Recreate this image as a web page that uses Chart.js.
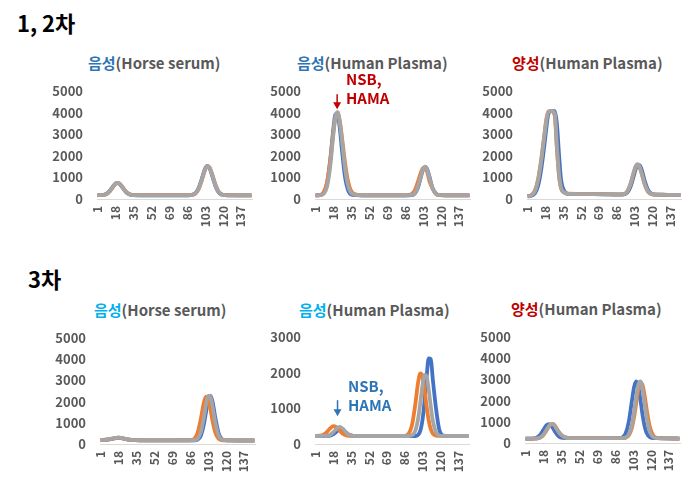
<!DOCTYPE html>
<html>
<head>
<meta charset="utf-8">
<script src="https://cdn.jsdelivr.net/npm/chart.js@4"></script>
<style>
body { margin: 0; background: #fff; font-family: "Noto Sans CJK KR", "Noto Sans", sans-serif; }
#wrap { position: relative; width: 692px; height: 496px; overflow: hidden; }
.box { position: absolute; }
.head { position: absolute; font-weight: bold; font-size: 22px; line-height: 26px; color: #000; }
.ttl { position: absolute; font-weight: bold; font-size: 15px; line-height: 20px; color: #595959; white-space: nowrap; }
.note { position: absolute; font-weight: bold; font-size: 15px; line-height: 19px; }
</style>
</head>
<body>
<div id="wrap">
  <div class="head" style="left:17px; top:9px;">1, 2차</div>
  <div class="head" style="left:28px; top:265px;">3차</div>

  <div class="ttl" style="left:88px; top:53px;"><span style="color:#2E75B6">음성</span>(Horse serum)</div>
  <div class="ttl" style="left:297px; top:53px;"><span style="color:#2E75B6">음성</span>(Human Plasma)</div>
  <div class="ttl" style="left:512px; top:53px;"><span style="color:#C00000">양성</span>(Human Plasma)</div>
  <div class="ttl" style="left:94px; top:300px;"><span style="color:#00B0F0">음성</span>(Horse serum)</div>
  <div class="ttl" style="left:299px; top:300px;"><span style="color:#00B0F0">음성</span>(Human Plasma)</div>
  <div class="ttl" style="left:511px; top:299px;"><span style="color:#C00000">양성</span>(Human Plasma)</div>

  <div class="box" style="left:37px; top:81px; width:219px; height:158px;"><canvas id="c1"></canvas></div>
  <div class="box" style="left:255px; top:81px; width:219px; height:158px;"><canvas id="c2"></canvas></div>
  <div class="box" style="left:467px; top:81px; width:218px; height:158px;"><canvas id="c3"></canvas></div>
  <div class="box" style="left:40px; top:328px; width:219px; height:156px;"><canvas id="c4"></canvas></div>
  <div class="box" style="left:255px; top:327px; width:218px; height:157px;"><canvas id="c5"></canvas></div>
  <div class="box" style="left:465px; top:327px; width:219px; height:156px;"><canvas id="c6"></canvas></div>

  <div class="note" style="left:346px; top:69px; color:#C00000;">NSB,<br>HAMA</div>
  <div class="note" style="left:348px; top:376px; color:#2E75B6;">NSB,<br>HAMA</div>
</div>
<script>
const xTicks = [1, 18, 35, 52, 69, 86, 103, 120, 137];
const colBlue = '#4472C4', colOrange = '#ED7D31', colGray = '#A5A5A5';

// 1, 2차 - 음성(Horse serum)
const p1X      = [1, 5, 9, 12, 15, 18, 20, 22, 25, 28, 31, 35, 45, 60, 75, 86, 90, 94, 97, 100, 103, 105, 107, 110, 113, 116, 120, 125, 135, 147];
const p1Blue   = [185, 178, 230, 345, 540, 715, 745, 690, 505, 320, 215, 175, 165, 165, 165, 170, 185, 280, 520, 950, 1400, 1530, 1450, 1040, 580, 300, 185, 170, 165, 165];
const p1Orange = [180, 175, 215, 320, 505, 690, 740, 710, 535, 345, 230, 180, 175, 175, 175, 175, 180, 260, 475, 890, 1350, 1510, 1480, 1100, 640, 335, 195, 175, 170, 170];
const p1Gray   = [190, 176, 222, 331, 522, 705, 750, 705, 522, 331, 222, 176, 170, 170, 170, 172, 181, 267, 491, 913, 1370, 1523, 1470, 1077, 612, 320, 190, 172, 170, 170];

// 1, 2차 - 음성(Human Plasma)
const p2X      = [1, 5, 9, 12, 15, 18, 20, 22, 24, 26, 29, 32, 36, 45, 60, 75, 86, 92, 95, 98, 101, 103, 105, 107, 109, 112, 115, 119, 125, 135, 147];
const p2Blue   = [170, 180, 297, 736, 1814, 3282, 3930, 3930, 3282, 2303, 1017, 390, 189, 170, 168, 168, 170, 181, 248, 500, 1036, 1370, 1490, 1370, 1036, 500, 248, 176, 170, 168, 168];
const p2Orange = [170, 178, 337, 797, 1803, 3145, 3803, 3955, 3598, 2888, 1670, 785, 288, 172, 170, 170, 172, 228, 387, 777, 1231, 1432, 1432, 1231, 840, 492, 266, 180, 172, 170, 170];
const p2Gray   = [170, 175, 251, 588, 1536, 3030, 3830, 4020, 3585, 2750, 1427, 597, 228, 170, 170, 170, 172, 186, 268, 552, 1070, 1388, 1500, 1337, 996, 498, 250, 176, 170, 170, 170];

// 1, 2차 - 양성(Human Plasma)
const p3X      = [1, 4, 8, 11, 14, 17, 19, 21, 24, 27, 29, 31, 33, 36, 40, 48, 55, 62, 70, 80, 88, 92, 96, 99, 102, 104, 106, 108, 110, 113, 116, 120, 125, 135, 147];
const p3Blue   = [120, 140, 260, 600, 1350, 2450, 3300, 3950, 4080, 4070, 3500, 2100, 900, 380, 240, 225, 225, 222, 218, 210, 205, 208, 290, 530, 999, 1349, 1568, 1568, 1349, 820, 424, 230, 200, 190, 185];
const p3Orange = [140, 170, 380, 900, 1800, 2950, 3700, 4050, 4070, 3850, 2350, 1100, 500, 300, 245, 238, 240, 238, 228, 215, 210, 215, 330, 640, 1150, 1460, 1590, 1470, 1170, 660, 345, 218, 205, 195, 190];
const p3Gray   = [130, 160, 350, 850, 1750, 2900, 3650, 4050, 4080, 3950, 2450, 1150, 520, 300, 240, 230, 228, 228, 222, 212, 210, 217, 345, 665, 1180, 1487, 1610, 1487, 1180, 665, 345, 217, 205, 195, 190];

// 3차 - 음성(Horse serum)
const p4X      = [1, 6, 10, 14, 18, 22, 26, 30, 40, 55, 70, 86, 90, 93, 96, 99, 101, 103, 105, 107, 110, 113, 117, 121, 130, 147];
const p4Blue   = [185, 195, 225, 265, 295, 270, 220, 190, 172, 168, 168, 168, 172, 205, 380, 926, 1506, 2045, 2280, 2045, 1200, 512, 205, 172, 165, 165];
const p4Orange = [190, 200, 235, 275, 300, 270, 220, 192, 175, 172, 172, 176, 250, 520, 1153, 1953, 2237, 2137, 1707, 1153, 520, 250, 176, 170, 168, 165];
const p4Gray   = [190, 200, 230, 270, 300, 275, 225, 195, 175, 170, 170, 170, 181, 251, 545, 1249, 1832, 2270, 2270, 1832, 971, 407, 192, 175, 168, 165];

// 3차 - 음성(Human Plasma)
const p5X      = [1, 5, 9, 12, 15, 18, 21, 24, 27, 30, 33, 37, 45, 60, 75, 86, 90, 93, 96, 99, 101, 103, 105, 107, 109, 111, 113, 116, 119, 123, 130, 147];
const p5Blue   = [225, 225, 225, 227, 237, 274, 345, 405, 391, 319, 258, 229, 225, 225, 225, 225, 225, 225, 225, 260, 367, 649, 1182, 1867, 2400, 2380, 1799, 1000, 420, 235, 225, 225];
const p5Orange = [225, 232, 270, 343, 440, 499, 467, 375, 290, 245, 229, 225, 225, 225, 225, 230, 292, 522, 1060, 1738, 1979, 1895, 1530, 1060, 666, 415, 292, 235, 228, 228, 228, 228];
const p5Gray   = [225, 225, 226, 232, 260, 330, 429, 480, 429, 330, 260, 229, 225, 225, 225, 225, 225, 246, 353, 720, 1150, 1620, 1940, 1900, 1533, 1055, 651, 329, 241, 226, 225, 225];

// 3차 - 양성(Human Plasma)
const p6X      = [1, 5, 9, 12, 15, 18, 21, 23, 25, 27, 29, 32, 35, 39, 45, 55, 65, 75, 86, 90, 93, 96, 99, 102, 104, 106, 108, 110, 112, 114, 116, 119, 122, 126, 135, 147];
const p6Blue   = [200, 201, 214, 262, 393, 622, 841, 895, 841, 705, 538, 338, 250, 232, 230, 230, 230, 230, 230, 235, 270, 457, 1026, 2030, 2649, 2900, 2649, 2030, 1327, 780, 457, 270, 235, 230, 215, 210];
const p6Orange = [200, 200, 202, 212, 255, 380, 600, 765, 875, 900, 805, 565, 385, 262, 235, 235, 238, 235, 230, 230, 230, 251, 361, 740, 1237, 1890, 2513, 2845, 2729, 2221, 1545, 740, 361, 240, 218, 210];
const p6Gray   = [200, 200, 202, 214, 262, 395, 625, 785, 886, 886, 785, 541, 370, 255, 232, 230, 230, 230, 230, 230, 230, 260, 406, 895, 1495, 2203, 2756, 2900, 2518, 1851, 1172, 518, 286, 232, 215, 210];

const fontFam = '"Noto Sans CJK KR", "Noto Sans", sans-serif';

// small down arrow pointing at a data position
const arrowPlugin = {
    id: 'arrow',
    afterDatasetsDraw(chart, args, opts) {
        if (!opts || opts.x == null) return;
        const c = chart.ctx;
        const px = chart.scales.x.getPixelForValue(opts.x);
        const py = chart.scales.y.getPixelForValue(opts.y);
        c.save();
        c.strokeStyle = opts.color;
        c.fillStyle = opts.color;
        c.lineWidth = 1.5;
        c.beginPath();
        c.moveTo(px, py - opts.len);
        c.lineTo(px, py - 5);
        c.stroke();
        c.beginPath();
        c.moveTo(px - 4, py - 7);
        c.lineTo(px + 4, py - 7);
        c.lineTo(px, py);
        c.closePath();
        c.fill();
        c.restore();
    }
};

function toPts(xs, ys) {
    return xs.map((x, i) => ({ x: x, y: ys[i] }));
}

function lineSet(ys, xs, color, order) {
    return {
        data: toPts(xs, ys),
        borderColor: color,
        backgroundColor: color,
        borderWidth: 3.8,
        pointRadius: 0,
        cubicInterpolationMode: 'monotone',
        order: order
    };
}

function peakChart(id, xs, blue, orange, gray, yMax, arrow) {
    const config = {
        type: 'line',
        data: {
            datasets: [
                lineSet(blue, xs, colBlue, 2),
                lineSet(orange, xs, colOrange, 1),
                lineSet(gray, xs, colGray, 0)
            ]
        },
        options: {
            responsive: true,
            maintainAspectRatio: false,
            animation: false,
            layout: { padding: { top: 10, right: 4, left: 0, bottom: 0 } },
            plugins: {
                legend: { display: false },
                tooltip: { enabled: false },
                arrow: arrow || {}
            },
            scales: {
                x: {
                    type: 'linear',
                    min: 0.5,
                    max: 147.5,
                    grid: { display: false, drawTicks: false },
                    border: { color: '#D9D9D9', width: 1 },
                    afterBuildTicks: s => { s.ticks = xTicks.map(v => ({ value: v })); },
                    afterFit: s => { s.height = 40; s.paddingLeft = 0; s.paddingRight = 0; },
                    ticks: {
                        minRotation: 90, maxRotation: 90, autoSkip: false, padding: 7,
                        color: '#595959', font: { family: fontFam, size: 12, weight: 'bold' },
                        callback: v => String(v)
                    }
                },
                y: {
                    min: 0,
                    max: yMax,
                    grid: { display: false, drawTicks: false },
                    border: { display: false },
                    afterFit: s => { s.width = 60; s.paddingTop = 0; s.paddingBottom = 0; },
                    ticks: {
                        stepSize: 1000, padding: 14,
                        color: '#595959', font: { family: fontFam, size: 13, weight: 'bold' },
                        callback: v => String(v)
                    }
                }
            }
        },
        plugins: [arrowPlugin]
    };
    new Chart(document.getElementById(id), config);
}

peakChart('c1', p1X, p1Blue, p1Orange, p1Gray, 5000);
peakChart('c2', p2X, p2Blue, p2Orange, p2Gray, 5000, { x: 21.5, y: 4150, len: 15, color: '#C00000' });
peakChart('c3', p3X, p3Blue, p3Orange, p3Gray, 5000);
peakChart('c4', p4X, p4Blue, p4Orange, p4Gray, 5000);
peakChart('c5', p5X, p5Blue, p5Orange, p5Gray, 3000, { x: 22, y: 780, len: 16, color: '#2E75B6' });
peakChart('c6', p6X, p6Blue, p6Orange, p6Gray, 5000);
</script>
</body>
</html>
